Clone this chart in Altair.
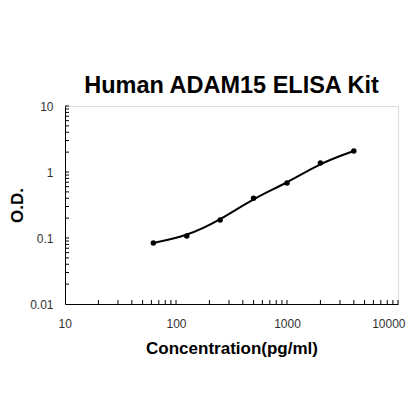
import altair as alt
import pandas as pd

# Standard curve data
conc = [62.5, 125, 250, 500, 1000, 2000, 4000]
od = [0.084, 0.107, 0.187, 0.40, 0.68, 1.37, 2.08]

x_tick_labels = [10, 100, 1000, 10000]
y_tick_labels = [0.01, 0.1, 1, 10]

x_decades = [10, 100, 1000]
y_decades = [0.01, 0.1, 1]
multiples = [2, 3, 4, 5, 6, 7, 8, 9, 10]

df = pd.DataFrame({"conc": conc, "od": od})
xt = pd.DataFrame({"conc": [d * m for d in x_decades for m in multiples]})
yt = pd.DataFrame({"od": [round(d * m, 4) for d in y_decades for m in multiples]})

FONT = "Liberation Sans"
W, H = 333, 198

xscale = alt.Scale(type="log", domain=[10, 10000])
yscale = alt.Scale(type="log", domain=[0.01, 10])

xaxis = alt.Axis(values=x_tick_labels, format="~g", ticks=False, grid=False,
                 labelPadding=14, titlePadding=11, domainColor="black",
                 labelFont=FONT, labelFontSize=12, labelColor="#333",
                 titleFont=FONT, titleFontSize=17, titleFontWeight="bold",
                 titleColor="black", labelFlush=True, labelFlushOffset=7)
yaxis = alt.Axis(values=y_tick_labels, format="~g", ticks=False, grid=False,
                 labelPadding=12, titlePadding=3, domainColor="black",
                 labelFont=FONT, labelFontSize=12, labelColor="#333",
                 titleFont=FONT, titleFontSize=17, titleFontWeight="bold",
                 titleColor="black", labelFlush=False)

line = alt.Chart(df).mark_line(color="black", strokeWidth=2, interpolate="basis").encode(
    x=alt.X("conc:Q", scale=xscale, axis=xaxis, title="Concentration(pg/ml)"),
    y=alt.Y("od:Q", scale=yscale, axis=yaxis, title="O.D."),
)
pts = alt.Chart(df).mark_circle(color="black", size=30, opacity=1).encode(
    x=alt.X("conc:Q", scale=xscale),
    y=alt.Y("od:Q", scale=yscale),
)
xticks = alt.Chart(xt).mark_rule(color="black", strokeWidth=1).encode(
    x=alt.X("conc:Q", scale=xscale),
    y=alt.value(H),
    y2=alt.value(H - 4),
)
yticks = alt.Chart(yt).mark_rule(color="black", strokeWidth=1).encode(
    y=alt.Y("od:Q", scale=yscale),
    x=alt.value(0),
    x2=alt.value(4),
)

chart = alt.layer(xticks, yticks, line, pts).properties(
    width=W, height=H,
    title=alt.TitleParams("Human ADAM15 ELISA Kit", font=FONT, fontSize=23.5,
                          fontWeight="bold", color="black", anchor="middle", offset=3),
    autosize=alt.AutoSizeParams(type="none"),
    padding={"left": 57, "top": 98, "right": 14, "bottom": 96},
).configure_view(stroke=None).configure(background="white")

chart.save("out.html", embed_options={"renderer": "svg", "actions": False})
